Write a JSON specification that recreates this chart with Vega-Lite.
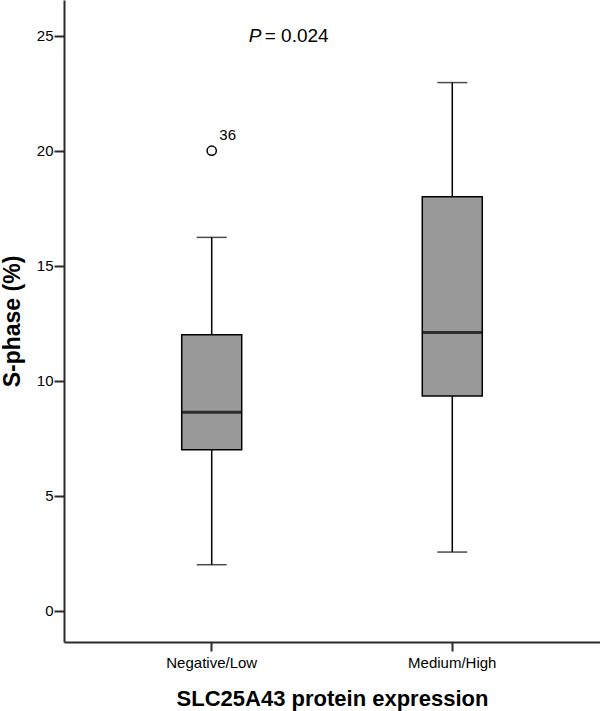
{
  "$schema": "https://vega.github.io/schema/vega-lite/v6.json",
  "autosize": {"type": "none"},
  "width": 536,
  "height": 642,
  "padding": {"left": 64, "top": 0, "right": 0, "bottom": 69},
  "background": "white",
  "config": {
    "view": {"stroke": null},
    "font": "Liberation Sans",
    "axis": {
      "domainColor": "#2b2b2b",
      "domainWidth": 2,
      "tickColor": "#2b2b2b",
      "tickWidth": 2,
      "grid": false,
      "labelColor": "#000000",
      "titleColor": "#000000",
      "labelFont": "Liberation Sans",
      "titleFont": "Liberation Sans",
      "labelFontSize": 15,
      "titleFontSize": 22,
      "titleFontWeight": "bold"
    }
  },
  "datasets": {
    "boxes": [
      {"group": "Negative/Low", "lower": 2.0, "q1": 7.0, "median": 8.63, "q3": 12.0, "upper": 16.23},
      {"group": "Medium/High", "lower": 2.55, "q1": 9.33, "median": 12.1, "q3": 18.0, "upper": 22.96}
    ],
    "outliers": [
      {"group": "Negative/Low", "value": 20.0, "case": "36"}
    ]
  },
  "encoding": {
    "x": {
      "field": "group",
      "type": "nominal",
      "sort": ["Negative/Low", "Medium/High"],
      "scale": {"type": "band", "domain": ["Negative/Low", "Medium/High"], "paddingInner": 0, "paddingOuter": 0.114},
      "axis": {
        "title": "SLC25A43 protein expression",
        "labelAngle": 0,
        "tickSize": 9,
        "labelPadding": 4,
        "titlePadding": 18
      }
    }
  },
  "layer": [
    {
      "data": {"name": "boxes"},
      "mark": {"type": "rule", "color": "#000000", "strokeWidth": 1.5},
      "encoding": {
        "y": {
          "field": "lower",
          "type": "quantitative",
          "scale": {"domain": [-1.36, 26.55], "nice": false, "zero": false},
          "axis": {
            "title": "S-phase (%)",
            "titleFontSize": 23,
            "values": [0, 5, 10, 15, 20, 25],
            "tickSize": 10,
            "labelPadding": 1,
            "titlePadding": 12
          }
        },
        "y2": {"field": "upper"}
      }
    },
    {
      "data": {"name": "boxes"},
      "mark": {"type": "tick", "color": "#000000", "size": 30, "thickness": 1.5},
      "encoding": {"y": {"field": "lower", "type": "quantitative"}}
    },
    {
      "data": {"name": "boxes"},
      "mark": {"type": "tick", "color": "#000000", "size": 30, "thickness": 1.5},
      "encoding": {"y": {"field": "upper", "type": "quantitative"}}
    },
    {
      "data": {"name": "boxes"},
      "mark": {"type": "bar", "width": 60, "fill": "#999999", "stroke": "#000000", "strokeWidth": 1.5},
      "encoding": {
        "y": {"field": "q1", "type": "quantitative"},
        "y2": {"field": "q3"}
      }
    },
    {
      "data": {"name": "boxes"},
      "mark": {"type": "tick", "color": "#000000", "size": 60, "thickness": 3},
      "encoding": {"y": {"field": "median", "type": "quantitative"}}
    },
    {
      "data": {"name": "outliers"},
      "mark": {"type": "point", "shape": "circle", "filled": false, "size": 85, "stroke": "#000000", "strokeWidth": 1.5, "opacity": 1},
      "encoding": {"y": {"field": "value", "type": "quantitative"}}
    },
    {
      "data": {"name": "outliers"},
      "mark": {"type": "text", "fontSize": 15, "align": "center", "baseline": "middle", "dx": 16, "dy": -16, "color": "#000000"},
      "encoding": {
        "y": {"field": "value", "type": "quantitative"},
        "text": {"field": "case"}
      }
    },
    {
      "data": {"values": [{"group": "Negative/Low", "y": 25, "label": "P"}]},
      "mark": {"type": "text", "fontSize": 19, "fontStyle": "italic", "align": "left", "baseline": "middle", "dx": 37, "color": "#000000"},
      "encoding": {
        "y": {"field": "y", "type": "quantitative"},
        "text": {"field": "label"}
      }
    },
    {
      "data": {"values": [{"group": "Negative/Low", "y": 25, "label": "= 0.024"}]},
      "mark": {"type": "text", "fontSize": 19, "align": "left", "baseline": "middle", "dx": 53, "color": "#000000"},
      "encoding": {
        "y": {"field": "y", "type": "quantitative"},
        "text": {"field": "label"}
      }
    }
  ]
}
